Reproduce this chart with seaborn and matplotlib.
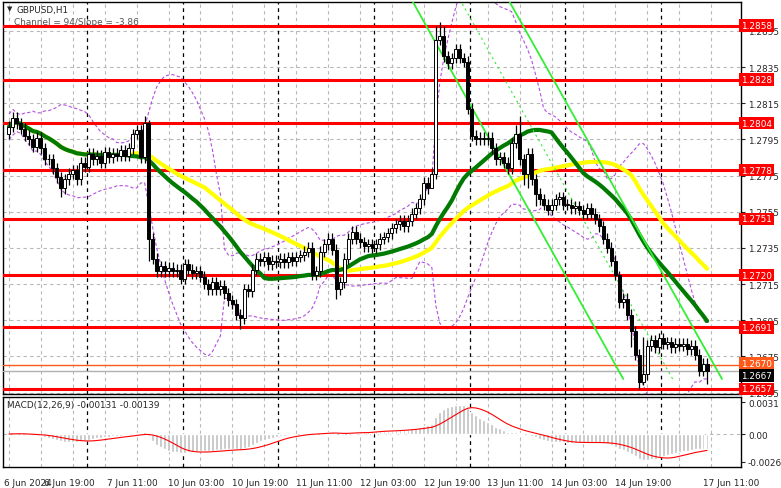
import numpy as np
import pandas as pd
import matplotlib
matplotlib.use("Agg")
import matplotlib.pyplot as plt
import seaborn as sns

sns.set_style("white")
plt.rcParams['font.family'] = ['DejaVu Sans']

closes = [
 1.2802,1.2807,1.2804,1.2801,1.2797,1.2795,1.2791,1.2796,1.2790,1.2784,1.2784,1.2779,1.2774,1.2768,1.2773,1.2776,1.2778,1.2773,1.2782,1.2780,
 1.2787,1.2784,1.2786,1.2782,1.2788,1.2785,1.2787,1.2786,1.2789,1.2786,1.2790,1.2798,1.2800,1.2785,1.2804,1.2740,1.2729,1.2722,1.2725,1.2722,1.2724,1.2722,1.2723,1.2718,
 1.2726,1.2723,1.2721,1.2722,1.2719,1.2715,1.2712,1.2716,1.2712,1.2714,1.2710,1.2706,1.2704,1.2698,1.2696,1.2712,1.2711,1.2723,1.2729,1.2728,1.2730,1.2726,1.2728,1.2727,
 1.2729,1.2727,1.2730,1.2728,1.2730,1.2731,1.2733,1.2735,1.2720,1.2722,1.2733,1.2737,1.2740,1.2734,1.2712,1.2716,1.2729,1.2740,1.2744,1.2740,1.2738,1.2736,1.2737,1.2735,
 1.2737,1.2740,1.2741,1.2743,1.2746,1.2748,1.2750,1.2747,1.2750,1.2754,1.2757,1.2762,1.2771,1.2768,1.2776,1.2850,1.2852,1.2841,1.2837,1.2840,1.2845,1.2840,1.2838,1.2812,
 1.2797,1.2795,1.2796,1.2795,1.2796,1.2790,1.2784,1.2785,1.2782,1.2779,1.2793,1.2798,1.2784,1.2776,1.2787,1.2773,1.2765,1.2762,1.2759,1.2756,1.2759,1.2762,1.2763,1.2759,
 1.2759,1.2757,1.2758,1.2756,1.2754,1.2757,1.2754,1.2751,1.2747,1.2740,1.2735,1.2728,1.2720,1.2705,1.2707,1.2698,1.2689,1.2676,1.2661,1.2665,1.2681,1.2684,1.2680,1.2685,
 1.2682,1.2683,1.2680,1.2682,1.2681,1.2682,1.2679,1.2681,1.2676,1.2667,1.2671,1.2667]
first_open = 1.2798
wick_up = 0.0003
wick_dn = 0.0003
high_override = {1: 1.2810, 34: 1.2808, 35: 1.2806, 107: 1.2858, 108: 1.2860, 109: 1.2858, 127: 1.2803, 128: 1.2808, 153: 1.2722, 159: 1.2686}
low_override = {13: 1.2763, 35: 1.2728, 58: 1.2690, 82: 1.2707, 106: 1.2770, 129: 1.2770, 130: 1.2768, 132: 1.2758, 156: 1.2680, 158: 1.2657, 159: 1.2659, 175: 1.2660}

levels = [1.2858, 1.2828, 1.2804, 1.2778, 1.2751, 1.2720, 1.2691, 1.2657]
bid_price = 1.2667
ask_price = 1.2670
chan_lower = ([100.75, 154.0], [1.2873, 1.26625])
chan_upper = ([125.0, 178.75], [1.2873, 1.26625])
tick_idx = [0, 15, 31, 47, 63, 79, 95, 111, 127, 143, 159, 175]
tick_lbl = ["6 Jun 2024", "6 Jun 19:00", "7 Jun 11:00", "10 Jun 03:00", "10 Jun 19:00", "11 Jun 11:00",
            "12 Jun 03:00", "12 Jun 19:00", "13 Jun 11:00", "14 Jun 03:00", "14 Jun 19:00", "17 Jun 11:00"]
day_starts = [20, 44, 68, 92, 116, 140, 164]
macd_title = "MACD(12,26,9) -0.00131 -0.00139"

n = len(closes)
idx = np.arange(n)
c = pd.Series(closes)
opens = pd.Series([first_open] + closes[:-1])
highs = np.maximum(opens, c) + wick_up
lows = np.minimum(opens, c) - wick_dn
for k, v in high_override.items(): highs[k] = v
for k, v in low_override.items(): lows[k] = v

df = pd.DataFrame({"i": idx, "close": c,
                   "ma_fast": c.rolling(30, min_periods=1).mean(),
                   "ma_slow": c.rolling(50, min_periods=1).mean()})
mid = c.rolling(20, min_periods=1).mean()
sd = c.rolling(20, min_periods=2).std().bfill()
df["bb_up"] = mid + 2 * sd
df["bb_dn"] = mid - 2 * sd
macd = c.ewm(span=12, adjust=False).mean() - c.ewm(span=26, adjust=False).mean()
signal = macd.rolling(9, min_periods=1).mean()
df["macd"] = macd
df["signal"] = signal

fig = plt.figure(figsize=(7.81, 4.89), dpi=100)
ax = fig.add_axes([3/781, 1-395/489, 738/781, 392/489])
ax2 = fig.add_axes([3/781, 1-468/489, 738/781, 70/489])
ymin, ymax = 1.26542, 1.2871
fs = 6.4

for a in (ax, ax2):
    a.set_xlim(-1.5, 183.5)
    for s in a.spines.values():
        s.set_color("black"); s.set_linewidth(1)
    a.yaxis.tick_right()
    a.tick_params(axis="y", labelsize=fs, length=3, pad=2)
    a.tick_params(axis="x", length=0)
    a.set_xticks(np.arange(0, 184, 8))
    a.grid(True, axis="x", color="#b8b8b8", linestyle=(0, (3, 3)), linewidth=0.8)
    a.set_xticklabels([])
    for d in day_starts:
        a.axvline(d - 0.5, color="black", linestyle=(0, (3, 3)), linewidth=0.9, zorder=1)

ax.set_ylim(ymin, ymax)
yt = np.round(np.arange(1.2655, 1.2856, 0.002), 4)
ax.set_yticks(yt)
ax.set_yticklabels([f"{v:.4f}" for v in yt])
ax.grid(True, axis="y", color="#b8b8b8", linestyle=(0, (3, 3)), linewidth=0.8)

sns.lineplot(data=df, x="i", y="bb_up", ax=ax, color="#b44ee0", linestyle=(0, (3, 2)), linewidth=0.8, zorder=2)
sns.lineplot(data=df, x="i", y="bb_dn", ax=ax, color="#b44ee0", linestyle=(0, (3, 2)), linewidth=0.8, zorder=2)
for lv in levels:
    ax.axhline(lv, color="#ff0000", linewidth=2.2, zorder=3)
ax.axhline(ask_price, color="#ff5a1a", linewidth=1, zorder=3)
ax.axhline(bid_price, color="#b0b0b0", linewidth=1, zorder=3)
sns.lineplot(data=df, x="i", y="ma_slow", ax=ax, color="#ffff00", linewidth=3, zorder=4)
sns.lineplot(data=df, x="i", y="ma_fast", ax=ax, color="#007a00", linewidth=3, zorder=5)
ax.plot(*chan_lower, color="#33ee33", linewidth=1.3, zorder=6)
ax.plot(*chan_upper, color="#33ee33", linewidth=1.3, zorder=6)
ax.plot([(chan_lower[0][0]+chan_upper[0][0])/2, (chan_lower[0][1]+chan_upper[0][1])/2], chan_lower[1],
        color="#33ee33", linewidth=0.8, linestyle=(0, (2, 3)), zorder=6)
for i in range(n):
    o, cl = opens[i], c[i]
    ax.vlines(i, lows[i], highs[i], color="black", linewidth=0.9, zorder=7)
    bull = cl >= o
    ax.bar(i, max(abs(cl - o), 0.00004), bottom=min(o, cl), width=0.75,
           color="white" if bull else "black", edgecolor="black", linewidth=0.7, zorder=8)
ax.set_xlabel(""); ax.set_ylabel("")

for lv in levels:
    ax.text(1.0, lv, f"{lv:.4f}", transform=ax.get_yaxis_transform(), ha="left", va="center",
            fontsize=fs, color="white", zorder=10, clip_on=False,
            bbox=dict(boxstyle="square,pad=0.2", fc="#ff0000", ec="none"))
ax.text(1.0, ask_price + 0.0001, f"{ask_price:.4f}", transform=ax.get_yaxis_transform(), ha="left", va="center",
        fontsize=fs, color="white", clip_on=False, bbox=dict(boxstyle="square,pad=0.2", fc="#ff5a1a", ec="none"))
ax.text(1.0, bid_price - 0.00025, f"{bid_price:.4f}", transform=ax.get_yaxis_transform(), ha="left", va="center",
        fontsize=fs, color="white", clip_on=False, bbox=dict(boxstyle="square,pad=0.2", fc="black", ec="none"))

ax.text(0.018, 0.993, "GBPUSD,H1", transform=ax.transAxes, fontsize=fs, va="top", ha="left")
ax.text(0.006, 0.993, "▼", transform=ax.transAxes, fontsize=5, va="top", ha="left")
ax.text(0.015, 0.962, "Channel = 94/Slope = -3.86", transform=ax.transAxes, fontsize=fs, va="top", ha="left", color="#555555")

ax2.bar(idx, df["macd"], width=0.7, color="#c0c0c0", zorder=3)
sns.lineplot(data=df, x="i", y="signal", ax=ax2, color="#ff0000", linewidth=0.8, zorder=4)
ax2.set_ylim(-0.0032, 0.0036)
ax2.set_yticks([0.0031, 0.0, -0.00267])
ax2.set_yticklabels(["0.0031", "0.00", "-0.00267"])
ax2.axhline(0, color="#b8b8b8", linestyle=(0, (3, 3)), linewidth=0.8)
ax2.set_xlabel(""); ax2.set_ylabel("")
ax2.text(0.005, 0.96, macd_title, transform=ax2.transAxes, fontsize=fs, va="top", ha="left")

for t, l in zip(tick_idx, tick_lbl):
    if t == 0:
        ax2.text(-1.2, -0.0043, l, fontsize=fs, ha="left", va="top", clip_on=False)
    elif t == tick_idx[-1]:
        ax2.text(t - 1, -0.0043, l, fontsize=fs, ha="left", va="top", clip_on=False)
    else:
        ax2.text(t, -0.0043, l, fontsize=fs, ha="center", va="top", clip_on=False)

fig.savefig("out.png", dpi=100)
